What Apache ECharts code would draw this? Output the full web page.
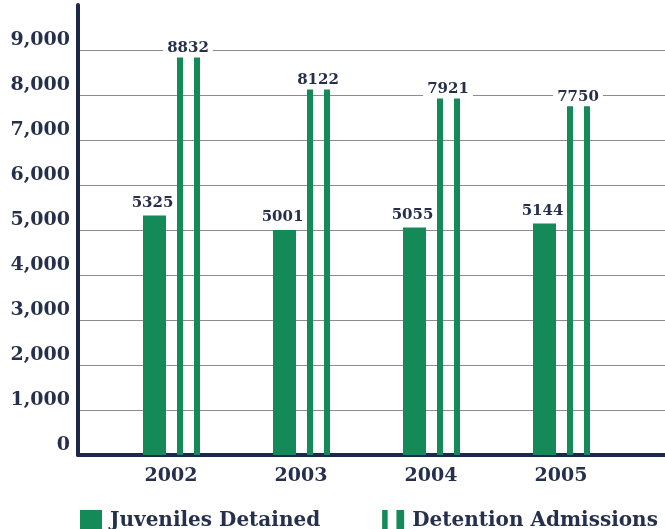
<!DOCTYPE html>
<html>
<head>
<meta charset="utf-8">
<script src="https://cdn.jsdelivr.net/npm/echarts@6/dist/echarts.min.js"></script>
<style>
  html, body { margin: 0; padding: 0; background: #fff; }
  #chart { width: 665px; height: 529px; }
</style>
</head>
<body>
<div id="chart"></div>
<script>
// data
var years = ["2002", "2003", "2004", "2005"];
var juvenilesDetained = [5325, 5001, 5055, 5144];
var detentionAdmissions = [8832, 8122, 7921, 7750];
var yTicks = [0, 1000, 2000, 3000, 4000, 5000, 6000, 7000, 8000, 9000];

var green = "#138a58";
var navy = "#1c2a4a";
var textColor = "#262f4c";
var serif = "'DejaVu Serif', serif";

var chart = echarts.init(document.getElementById("chart"));

function labelText(x, y, value, withBg) {
  var style = {
    text: String(value),
    fill: textColor,
    font: "bold 15px " + serif,
    align: "center",
    verticalAlign: "bottom"
  };
  if (withBg) {
    // white box breaks the grid line behind the number
    style.backgroundColor = "#fff";
    style.padding = [0, 4, 0, 4];
  }
  return { type: "text", x: x, y: y, z2: 10, style: style };
}

// solid bar, left part of each year group
function renderJuveniles(params, api) {
  var top = api.coord([api.value(0), api.value(1)]);
  var base = api.coord([api.value(0), 0]);
  var cx = top[0] - 16.5;
  return {
    type: "group",
    children: [
      {
        type: "rect",
        shape: { x: cx - 11.5, y: top[1], width: 23, height: base[1] - top[1] },
        style: { fill: green }
      },
      labelText(cx - 2, top[1] - 5, api.value(1), false)
    ]
  };
}

// double thin bars, right part of each year group
function renderAdmissions(params, api) {
  var top = api.coord([api.value(0), api.value(1)]);
  var base = api.coord([api.value(0), 0]);
  var c = top[0];
  var h = base[1] - top[1];
  return {
    type: "group",
    children: [
      { type: "rect", shape: { x: c + 6, y: top[1], width: 6, height: h }, style: { fill: green } },
      { type: "rect", shape: { x: c + 23, y: top[1], width: 6, height: h }, style: { fill: green } },
      labelText(c + 17, top[1] - 2, api.value(1), true)
    ]
  };
}

var option = {
  backgroundColor: "#fff",
  animation: false,
  grid: [
    { left: 78, right: 0, top: 5, bottom: 74 },
    { left: 106, right: 39, top: 5, bottom: 74 }
  ],
  xAxis: [
    {
      gridIndex: 0,
      type: "value",
      min: 0,
      max: 1,
      axisLine: { show: true, lineStyle: { color: navy, width: 4 } },
      axisTick: { show: false },
      axisLabel: { show: false },
      splitLine: { show: false }
    },
    {
      gridIndex: 1,
      type: "category",
      data: years,
      axisLine: { show: false },
      axisTick: { show: false },
      axisLabel: {
        color: textColor,
        fontFamily: serif,
        fontWeight: "bold",
        fontSize: 19,
        margin: 12
      }
    }
  ],
  yAxis: [
    {
      gridIndex: 0,
      type: "value",
      min: 0,
      max: 10000,
      interval: 1000,
      axisLine: { show: true, lineStyle: { color: navy, width: 4 } },
      axisTick: { show: false },
      axisLabel: {
        showMaxLabel: false,
        color: textColor,
        fontFamily: serif,
        fontWeight: "bold",
        fontSize: 19,
        margin: 8,
        verticalAlign: "bottom",
        formatter: function (v) {
          return yTicks.indexOf(v) >= 0 ? v.toLocaleString("en-US") : "";
        }
      },
      splitLine: {
        show: true,
        showMinLine: false,
        showMaxLine: false,
        lineStyle: { color: "#8c8c8c", width: 1.2 }
      }
    },
    {
      gridIndex: 1,
      type: "value",
      min: 0,
      max: 10000,
      show: false
    }
  ],
  legend: {
    left: 75,
    top: 505,
    itemWidth: 22,
    itemHeight: 22,
    itemGap: 62,
    textStyle: {
      color: textColor,
      fontFamily: serif,
      fontWeight: "bold",
      fontSize: 20,
      padding: [0, 0, 0, 3]
    },
    data: [
      { name: "Juveniles Detained", icon: "rect" },
      { name: "Detention Admissions", icon: "path://M0,0H5V20H0Z M13,0H20V20H13Z" }
    ]
  },
  series: [
    {
      name: "Juveniles Detained",
      type: "custom",
      xAxisIndex: 1,
      yAxisIndex: 1,
      itemStyle: { color: green },
      renderItem: renderJuveniles,
      data: juvenilesDetained.map(function (v, i) { return [i, v]; })
    },
    {
      name: "Detention Admissions",
      type: "custom",
      xAxisIndex: 1,
      yAxisIndex: 1,
      itemStyle: { color: green },
      renderItem: renderAdmissions,
      data: detentionAdmissions.map(function (v, i) { return [i, v]; })
    }
  ]
};

chart.setOption(option);
window.addEventListener("resize", function () {
  chart.resize();
});
</script>
</body>
</html>
